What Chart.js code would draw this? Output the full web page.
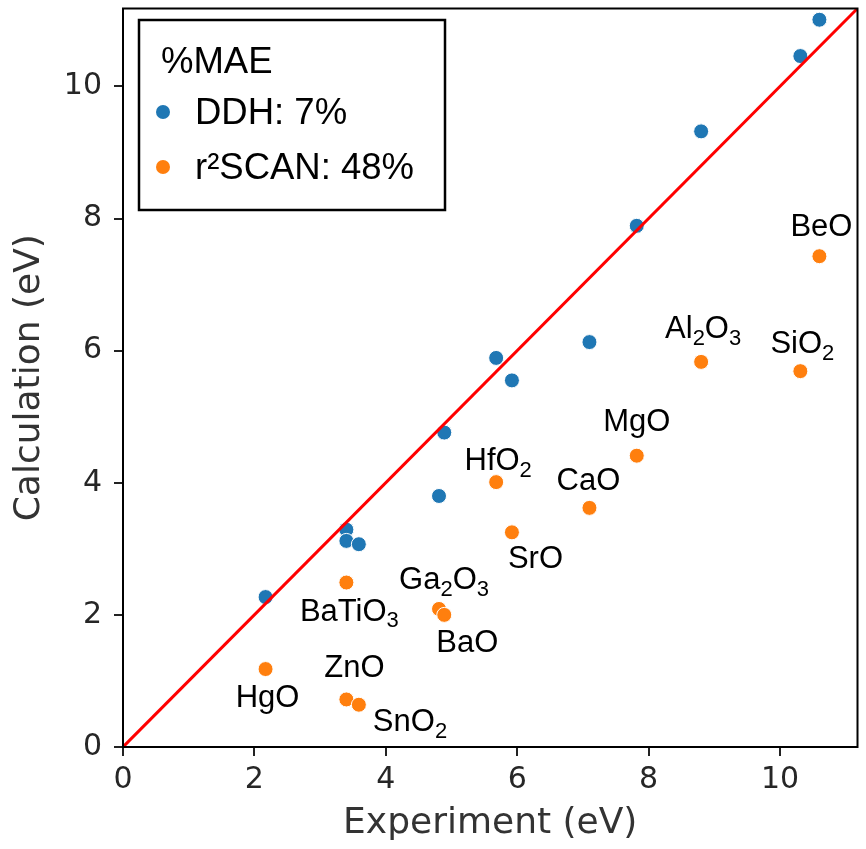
<!DOCTYPE html>
<html>
<head>
<meta charset="utf-8">
<script src="https://cdn.jsdelivr.net/npm/chart.js@4.4.1/dist/chart.umd.min.js"></script>
<style>
  body { margin: 0; background: #fff; }
  #wrap { width: 866px; height: 849px; }
</style>
</head>
<body>
<div id="wrap"><canvas id="chart" width="866" height="849"></canvas></div>
<script>
// compounds, in the same order for both series
let compounds = ['HgO', 'BaTiO_3', 'ZnO', 'SnO_2', 'Ga_2O_3', 'BaO', 'HfO_2', 'SrO', 'CaO', 'MgO', 'Al_2O_3', 'SiO_2', 'BeO'];
let experiment = [2.17, 3.40, 3.40, 3.59, 4.81, 4.89, 5.68, 5.92, 7.10, 7.82, 8.80, 10.31, 10.60];
let ddh        = [2.27, 3.29, 3.12, 3.07, 3.80, 4.76, 5.89, 5.55, 6.13, 7.89, 9.32, 10.46, 11.01];
let r2scan     = [1.18, 2.49, 0.72, 0.64, 2.09, 2.00, 4.01, 3.25, 3.62, 4.41, 5.83, 5.69, 7.43];
let seriesNames = ['DDH: 7%', 'r\u00b2SCAN: 48%'];
let legendTitle = '%MAE';
let axisMax = 11.18;
let tickValues = [0, 2, 4, 6, 8, 10];

// where each name goes, relative to its orange point: [dx, dy(baseline), align]
let labelPlace = [
    [2, 38, 'center'], [3, 38, 'center'], [8, -22, 'center'], [14, 26, 'left'],
    [5, -20, 'center'], [-8, 37, 'left'], [2, -12, 'center'], [-4, 36, 'left'],
    [-1, -18, 'center'], [0, -25, 'center'], [2, -24, 'center'], [2, -18, 'center'],
    [2, -20, 'center']
];

const blue = '#1f77b4';
const orange = '#ff7f0e';
const labelFont = 'Liberation Sans, Arial, sans-serif';

function toPoints(xs, ys) {
    let out = [];
    for (let i = 0; i < xs.length; i++) out.push({x: xs[i], y: ys[i]});
    return out;
}

// text with _n subscripts
function splitRich(txt) {
    let parts = [];
    let re = /_(\d)/g, last = 0, m;
    while ((m = re.exec(txt)) !== null) {
        if (m.index > last) parts.push({t: txt.slice(last, m.index), sub: false});
        parts.push({t: m[1], sub: true});
        last = re.lastIndex;
    }
    if (last < txt.length) parts.push({t: txt.slice(last), sub: false});
    return parts;
}

function drawRich(ctx, txt, x, y, align, size) {
    let parts = splitRich(txt);
    let w = 0;
    parts.forEach(p => {
        ctx.font = (p.sub ? Math.round(size * 0.72) : size) + 'px ' + labelFont;
        p.w = ctx.measureText(p.t).width;
        w += p.w;
    });
    let cx = align === 'center' ? x - w / 2 : x;
    ctx.textBaseline = 'alphabetic';
    ctx.textAlign = 'left';
    parts.forEach(p => {
        ctx.font = (p.sub ? Math.round(size * 0.72) : size) + 'px ' + labelFont;
        ctx.fillText(p.t, cx, p.sub ? y + size * 0.22 : y);
        cx += p.w;
    });
}

const extras = {
    id: 'extras',
    beforeDraw(c) {
        let ctx = c.ctx;
        ctx.save();
        ctx.fillStyle = '#fff';
        ctx.fillRect(0, 0, c.width, c.height);
        ctx.restore();
    },
    afterDraw(c) {
        let ctx = c.ctx;
        let a = c.chartArea;
        let xs = c.scales.x, ys = c.scales.y;
        ctx.save();
        // compound names
        ctx.fillStyle = '#000';
        for (let i = 0; i < compounds.length; i++) {
            let px = xs.getPixelForValue(experiment[i]);
            let py = ys.getPixelForValue(r2scan[i]);
            let p = labelPlace[i];
            drawRich(ctx, compounds[i], px + p[0], py + p[1], p[2], 31);
        }
        // frame
        ctx.strokeStyle = '#000';
        ctx.lineWidth = 2;
        ctx.strokeRect(a.left, a.top, a.right - a.left, a.bottom - a.top);
        // legend box
        ctx.fillStyle = '#fff';
        ctx.fillRect(139, 20, 306, 190);
        ctx.lineWidth = 2.5;
        ctx.strokeRect(139, 20, 306, 190);
        ctx.fillStyle = '#000';
        ctx.font = '36.5px ' + labelFont;
        ctx.textAlign = 'left';
        ctx.textBaseline = 'alphabetic';
        ctx.fillText(legendTitle, 161, 73);
        let cols = [blue, orange];
        let rows = [112, 167];
        for (let k = 0; k < 2; k++) {
            ctx.beginPath();
            ctx.arc(163, rows[k], 7, 0, Math.PI * 2);
            ctx.fillStyle = cols[k];
            ctx.fill();
            ctx.fillStyle = '#000';
            ctx.fillText(seriesNames[k], 195, rows[k] + 12);
        }
        ctx.restore();
    }
};

const tickFont = {family: 'DejaVu Sans', size: 30};
const titleFont = {family: 'DejaVu Sans', size: 36};

new Chart(document.getElementById('chart'), {
    type: 'scatter',
    data: {
        datasets: [
            {
                type: 'line',
                data: [{x: 0, y: 0}, {x: axisMax, y: axisMax}],
                borderColor: '#ff0000',
                borderWidth: 3,
                pointRadius: 0,
                order: 0
            },
            {
                label: seriesNames[0],
                data: toPoints(experiment, ddh),
                backgroundColor: blue,
                borderColor: '#fff',
                borderWidth: 1,
                pointRadius: 7.5,
                order: 1
            },
            {
                label: seriesNames[1],
                data: toPoints(experiment, r2scan),
                backgroundColor: orange,
                borderColor: '#fff',
                borderWidth: 1,
                pointRadius: 7.5,
                order: 1
            }
        ]
    },
    options: {
        responsive: false,
        animation: false,
        layout: {padding: {top: 7, right: 3, left: 0, bottom: 0}},
        plugins: {
            legend: {display: false},
            tooltip: {enabled: false}
        },
        scales: {
            x: {
                type: 'linear',
                min: 0,
                max: axisMax,
                afterBuildTicks: s => { s.ticks = tickValues.map(v => ({value: v})); },
                afterFit: s => { s.height = 102; s.paddingLeft = 0; s.paddingRight = 0; },
                ticks: {font: tickFont, color: '#262626', padding: 6, maxRotation: 0},
                grid: {drawOnChartArea: false, drawTicks: true, tickLength: 9, color: '#222', lineWidth: 2},
                border: {display: false},
                title: {display: true, text: 'Experiment (eV)', font: titleFont, color: '#333', padding: {top: 0, bottom: 4}}
            },
            y: {
                type: 'linear',
                min: 0,
                max: axisMax,
                afterBuildTicks: s => { s.ticks = tickValues.map(v => ({value: v})); },
                afterFit: s => { s.width = 123; s.paddingTop = 0; s.paddingBottom = 0; },
                ticks: {font: tickFont, color: '#262626', padding: 12},
                grid: {drawOnChartArea: false, drawTicks: true, tickLength: 9, color: '#222', lineWidth: 2},
                border: {display: false},
                title: {display: true, text: 'Calculation (eV)', font: titleFont, color: '#333', padding: {top: 8, bottom: 0}}
            }
        }
    },
    plugins: [extras]
});
</script>
</body>
</html>
